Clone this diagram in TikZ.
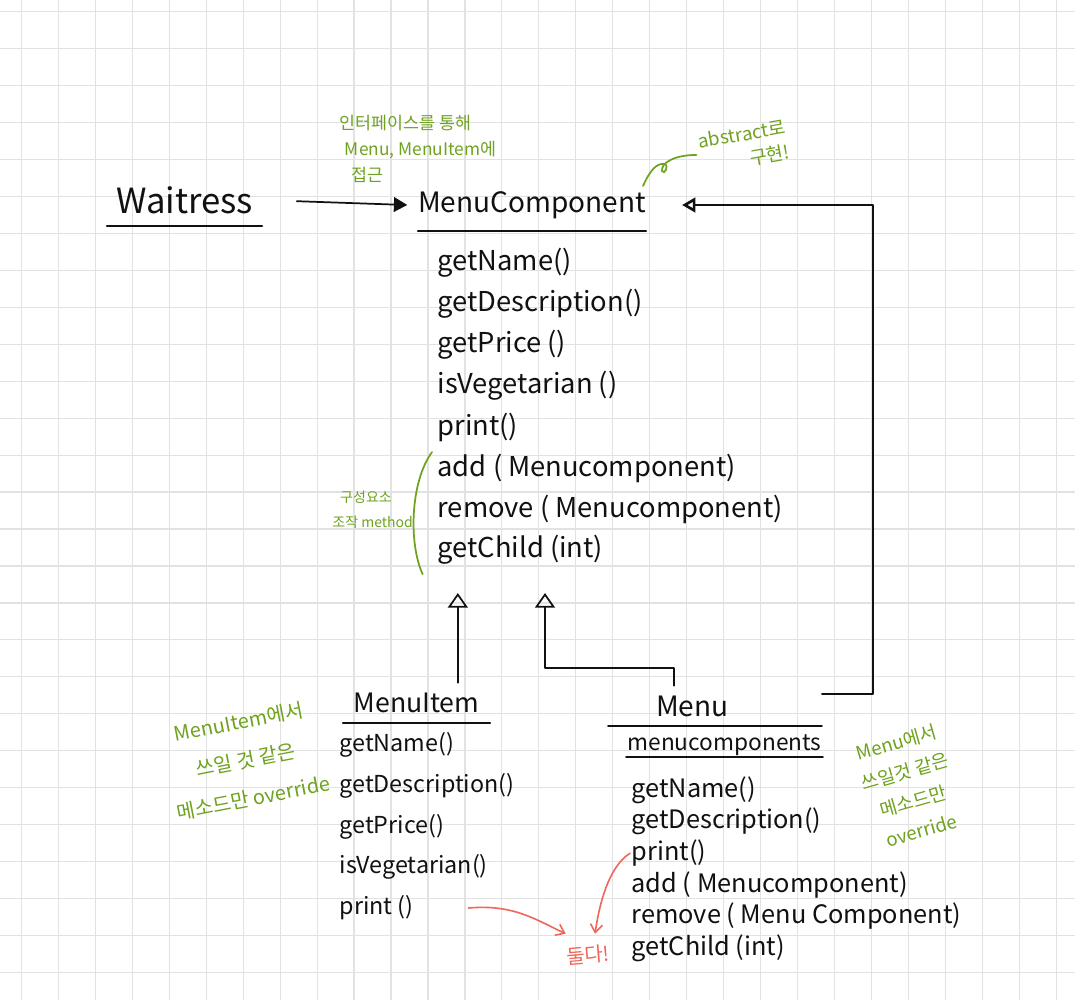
\documentclass[tikz,border=0pt]{standalone}
\usepackage{fontspec}
\setmainfont{Noto Sans CJK KR}
\usetikzlibrary{positioning,arrows.meta,calc}
\definecolor{PenBlack}{HTML}{111111}
\definecolor{NoteGreen}{HTML}{6FA21E}
\definecolor{NoteRed}{HTML}{F0675A}
\definecolor{GridGray}{HTML}{E2E2E2}

\begin{document}
\begin{tikzpicture}[x=0.75pt, y=-0.75pt,
  gridline/.style={draw=GridGray, line width=0.9pt},
  uline/.style={draw=PenBlack, line width=1.4pt, line cap=round},
  underlined/.style={append after command={(\tikzlastnode.south west) edge[uline] (\tikzlastnode.south east)}},
  classname/.style n args={2}{text=PenBlack, inner sep=0pt, minimum width=#1, minimum height=#2, underlined},
  method/.style={anchor=west, text=PenBlack, inner sep=1pt, font=\fontsize{#1}{#1}\selectfont},
  note/.style={text=NoteGreen, inner sep=1pt},
  notepen/.style={draw=NoteGreen, line width=1.3pt, line cap=round},
  redpen/.style={draw=NoteRed, line width=1.2pt, line cap=round, -{Straight Barb[length=6pt, width=9pt]}},
  pen/.style={draw=PenBlack, line width=1.3pt, line cap=round, line join=round},
  inherit/.style={pen, -{Triangle[open, length=11pt, width=15pt, line width=1.3pt]}},
  navarrow/.style={pen, -{Triangle[length=10pt, width=11pt]}},
  aggrarrow/.style={pen, -{Triangle[open, length=10pt, width=11pt, line width=2pt]}}
]
% paper
\useasboundingbox (0,0) rectangle (1075,1000);
\fill[white] (0,0) rectangle (1075,1000);
\foreach \gx in {0,...,28}
  \draw[gridline] ({21.5+36.95*\gx},0) -- ({21.5+36.95*\gx},1000);
\foreach \gy in {0,...,26}
  \draw[gridline] (0,{11.7+36.95*\gy}) -- (1075,{11.7+36.95*\gy});

% classes
\node[classname={116pt}{39pt}, font=\fontsize{26}{28}\selectfont] (waitress) at (184.5,200) {Waitress};
\node[classname={164pt}{39pt}, font=\fontsize{21}{24}\selectfont] (mc) at (532,205) {MenuComponent};
\node[classname={110pt}{30pt}, font=\fontsize{20}{24}\selectfont] (mi) at (416.5,703) {MenuItem};
\node[classname={160pt}{30pt}, font=\fontsize{21}{24}\selectfont] (menu) at (715,706) {\hspace{-34pt}Menu};

% methods
\foreach \txt [count=\i] in {getName(), getDescription(), getPrice (), isVegetarian (), print(), add ( Menucomponent), remove ( Menucomponent), getChild (int)}
  \node[method=20.5] (mc\i) at (436,{222+41*\i}) {\txt};
\foreach \txt [count=\i] in {getName(), getDescription(), getPrice(), isVegetarian(), print ()}
  \node[method=17.5] (mi\i) at (338,{704.25+40.75*\i}) {\txt};
\node[method=17, underlined] (mcomp) at (626,745) {menucomponents};
\foreach \txt [count=\i] in {getName(), getDescription(), print(), add ( Menucomponent), remove ( Menu Component), getChild (int)}
  \node[method=19] (m\i) at (630,{758.4+31.6*\i}) {\txt};

% connectors
\coordinate (mcfoot) at (500,593);
\coordinate (menujoin) at (545,668);
\draw[navarrow, shorten <=26pt] (waitress.east) -- ([xshift=-8pt]mc.west);
\draw[inherit] ([xshift=31pt]mi.north) -- ([xshift=31pt]mi.north |- mcfoot);
\draw[inherit] ([xshift=-31pt]menu.north) |- (menujoin) -- (menujoin |- mcfoot);
\draw[aggrarrow] ([yshift=9pt]menu.east) -- ++(51,0) |- ([xshift=27pt]mc.east);

% notes
\node[note, anchor=north west, align=left, font=\fontsize{13}{19.5}\selectfont] (via) at (338,114) {인터페이스를 통해\\\hspace{4pt}Menu, MenuItem에\\\hspace{9pt}접근};
\node[note, rotate=10, align=right, font=\fontsize{14}{19}\selectfont] (abs) at (744,147) {abstract로\\구현!};
\draw[notepen] (643,186) .. controls (650,170) and (657,163) .. (664,164)
  .. controls (670,165) and (664,176) .. (662,171) .. controls (661,163) and (674,155) .. ([xshift=-2pt]abs.west);
\node[note, align=center, font=\fontsize{10.5}{19}\selectfont] (ops) at (366,510) {구성요소\\\hspace{10pt}조작 method};
\draw[notepen] ([xshift=-3pt, yshift=0pt]mc6.north west) .. controls +(-22,30) and +(-14,-30) .. ([xshift=-10pt, yshift=-6pt]mc8.south west);
\node[note, rotate=11, align=center, font=\fontsize{15}{29}\selectfont] (minote) at (246,760) {MenuItem에서\\쓰일 것 같은\\메소드만 override};
\node[note, rotate=16, align=center, font=\fontsize{14}{23}\selectfont] (mnote) at (909,786) {Menu에서\\쓰일것 같은\\메소드만\\override};
\node[text=NoteRed, rotate=5, inner sep=1pt, font=\fontsize{15}{18}\selectfont] (both) at (588,955) {둘다!};
\draw[redpen] ([xshift=40pt]mi5.east) .. controls +(45,-4) and +(-30,-14) .. ([shift={(-16pt,8pt)}]both.north);
\draw[redpen] (m3.west) .. controls +(-22,14) and +(4,-28) .. ([shift={(6pt,8pt)}]both.north);
\end{tikzpicture}
\end{document}
